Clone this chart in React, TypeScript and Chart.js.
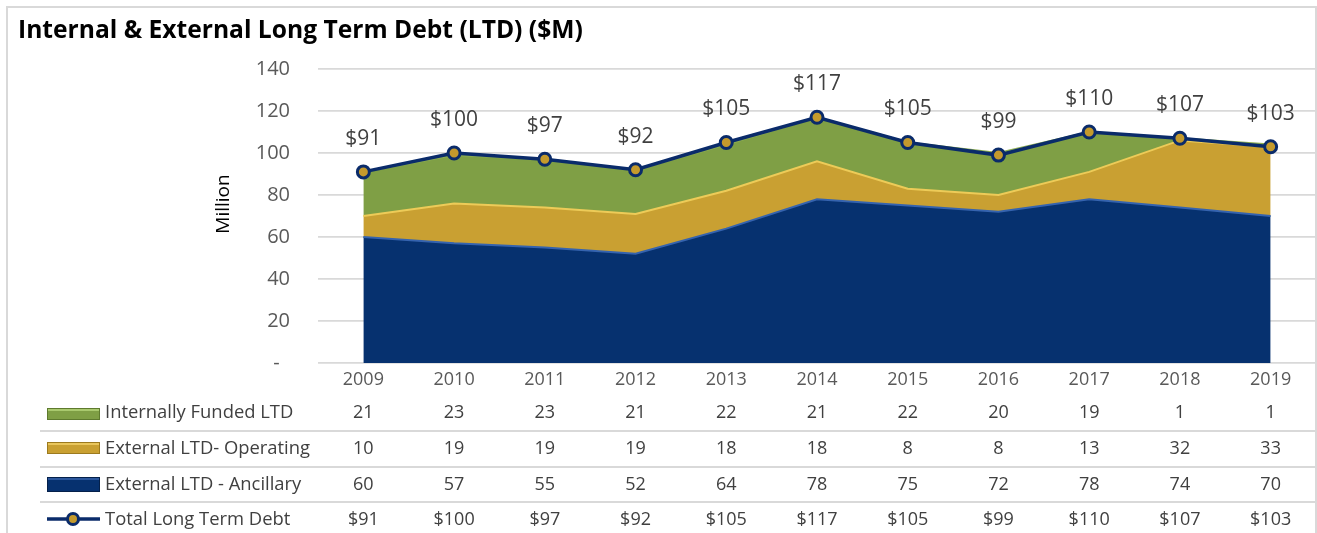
import React, { useEffect, useRef } from 'react';
import { Chart, registerables } from 'chart.js';
Chart.register(...registerables);

const TITLE = 'Internal & External Long Term Debt (LTD) ($M)';
const Y_TITLE = 'Million';
const years = ['2009', '2010', '2011', '2012', '2013', '2014', '2015', '2016', '2017', '2018', '2019'];
const internalFunded = [21, 23, 23, 21, 22, 21, 22, 20, 19, 1, 1];
const externalOperating = [10, 19, 19, 19, 18, 18, 8, 8, 13, 32, 33];
const externalAncillary = [60, 57, 55, 52, 64, 78, 75, 72, 78, 74, 70];
const totalDebt = [91, 100, 97, 92, 105, 117, 105, 99, 110, 107, 103];
const seriesNames = ['Internally Funded LTD', 'External LTD- Operating', 'External LTD - Ancillary', 'Total Long Term Debt'];

const W = 1317;
const H = 533;
const FONT = '"Open Sans", sans-serif';
const C_BLUE = '#06316F';
const C_BLUE_EDGE = '#3563AE';
const C_GOLD = '#C9A032';
const C_GOLD_EDGE = '#EDCB58';
const C_GREEN = '#7F9F45';
const C_GREEN_EDGE = '#8DAD52';
const C_LINE = '#0A2B6A';
const C_MARK = '#C49A2C';
const C_GRID = '#D9D9D9';

const fmt = (v: number) => '$' + v;

const decor = {
  id: 'decor',
  beforeDraw(chart: any) {
    const ctx = chart.ctx;
    ctx.save();
    ctx.fillStyle = '#fff';
    ctx.fillRect(0, 0, chart.width, chart.height);
    ctx.restore();
  },
  afterDatasetsDraw(chart: any) {
    const ctx = chart.ctx;
    const meta = chart.getDatasetMeta(3);
    ctx.save();
    ctx.font = `21px ${FONT}`;
    ctx.fillStyle = '#404040';
    ctx.textAlign = 'center';
    ctx.textBaseline = 'middle';
    meta.data.forEach((pt: any, i: number) => {
      ctx.fillText(fmt(totalDebt[i]), pt.x, pt.y - 33);
    });
    ctx.restore();
  },
  afterDraw(chart: any) {
    const ctx = chart.ctx;
    const xs = chart.scales.x;
    ctx.save();
    // frame
    ctx.strokeStyle = C_GRID;
    ctx.lineWidth = 2;
    ctx.strokeRect(7, 7, 1309, 600);
    // title
    let size = 22;
    ctx.font = `bold ${size}px ${FONT}`;
    const w = ctx.measureText(TITLE).width;
    size = size * 565 / w;
    ctx.font = `bold ${size}px ${FONT}`;
    ctx.fillStyle = '#000';
    ctx.textAlign = 'left';
    ctx.textBaseline = 'alphabetic';
    ctx.fillText(TITLE, 18, 38);
    // y title
    ctx.save();
    ctx.translate(224, 204);
    ctx.rotate(-Math.PI / 2);
    ctx.font = `19px ${FONT}`;
    ctx.textAlign = 'center';
    ctx.textBaseline = 'middle';
    ctx.fillText(Y_TITLE, 0, 0);
    ctx.restore();
    // table separators
    ctx.strokeStyle = C_GRID;
    ctx.lineWidth = 2;
    [431, 467, 502].forEach((y) => {
      ctx.beginPath();
      ctx.moveTo(40, y);
      ctx.lineTo(1316, y);
      ctx.stroke();
    });
    // table rows
    const rowsY = [413, 449, 485, 520];
    const rows = [internalFunded, externalOperating, externalAncillary];
    ctx.fillStyle = '#404040';
    ctx.textBaseline = 'middle';
    rowsY.forEach((y, r) => {
      ctx.textAlign = 'left';
      ctx.font = `18.4px ${FONT}`;
      ctx.fillText(seriesNames[r], 105, y);
      ctx.textAlign = 'center';
      ctx.font = `18px ${FONT}`;
      years.forEach((_, i) => {
        const v = r < 3 ? String(rows[r][i]) : fmt(totalDebt[i]);
        ctx.fillText(v, xs.getPixelForValue(i), y);
      });
    });
    // legend swatches
    const sw = [
      { c: C_GREEN, e: '#5E7A2E', hl: '#A9C96E', y: 408, h: 12 },
      { c: C_GOLD, e: '#9C7A1E', hl: '#E9C65C', y: 442, h: 12 },
      { c: C_BLUE, e: '#04204A', hl: '#2B569C', y: 477, h: 15 },
    ];
    sw.forEach((s) => {
      ctx.fillStyle = s.c;
      ctx.fillRect(47, s.y, 53, s.h);
      ctx.fillStyle = s.hl;
      ctx.fillRect(48, s.y + 1, 51, 2);
      ctx.strokeStyle = s.e;
      ctx.lineWidth = 1;
      ctx.strokeRect(47.5, s.y + 0.5, 52, s.h - 1);
    });
    // line legend
    ctx.strokeStyle = C_LINE;
    ctx.lineWidth = 3.5;
    ctx.beginPath();
    ctx.moveTo(47, 519);
    ctx.lineTo(100, 519);
    ctx.stroke();
    ctx.beginPath();
    ctx.arc(73, 519, 5.5, 0, Math.PI * 2);
    ctx.fillStyle = C_MARK;
    ctx.fill();
    ctx.lineWidth = 3;
    ctx.stroke();
    ctx.restore();
  },
};

export default function App() {
  const ref = useRef<HTMLCanvasElement>(null);
  useEffect(() => {
    document.body.style.margin = '0';
    document.body.style.overflow = 'hidden';
    document.documentElement.style.overflow = 'hidden';
    let chart: Chart | null = null;
    let cancelled = false;
    const make = () => {
      if (cancelled || !ref.current) return;
      chart = new Chart(ref.current, {
        type: 'line',
        data: {
          labels: years,
          datasets: [
            {
              label: seriesNames[2],
              data: externalAncillary,
              backgroundColor: C_BLUE,
              borderColor: C_BLUE_EDGE,
              borderWidth: 2,
              fill: 'origin',
              pointRadius: 0,
              tension: 0,
              stack: 'area',
              order: 2,
            },
            {
              label: seriesNames[1],
              data: externalOperating,
              backgroundColor: C_GOLD,
              borderColor: C_GOLD_EDGE,
              borderWidth: 2,
              fill: '-1',
              pointRadius: 0,
              tension: 0,
              stack: 'area',
              order: 2,
            },
            {
              label: seriesNames[0],
              data: internalFunded,
              backgroundColor: C_GREEN,
              borderColor: C_GREEN_EDGE,
              borderWidth: 2,
              fill: '-1',
              pointRadius: 0,
              tension: 0,
              stack: 'area',
              order: 2,
            },
            {
              label: seriesNames[3],
              data: totalDebt,
              borderColor: C_LINE,
              borderWidth: 3.5,
              backgroundColor: C_MARK,
              pointBackgroundColor: C_MARK,
              pointBorderColor: C_LINE,
              pointBorderWidth: 3,
              pointRadius: 6,
              fill: false,
              tension: 0,
              stack: 'line',
              order: 0,
            },
          ],
        },
        options: {
          animation: false,
          responsive: false,
          maintainAspectRatio: false,
          devicePixelRatio: 1,
          layout: { autoPadding: false, padding: { left: 0, top: 69, right: 1, bottom: 0 } },
          plugins: { legend: { display: false }, tooltip: { enabled: false }, title: { display: false } },
          scales: {
            x: {
              offset: true,
              grid: { display: false, drawTicks: false },
              border: { display: false },
              ticks: { color: '#595959', font: { family: FONT, size: 18 }, padding: 6, maxRotation: 0 },
              afterFit: (s: any) => {
                s.height = 170;
                s.paddingLeft = 0;
                s.paddingRight = 0;
              },
            },
            y: {
              stacked: true,
              min: 0,
              max: 140,
              grid: { color: C_GRID, lineWidth: 1.7, drawTicks: false },
              border: { display: false },
              ticks: {
                stepSize: 20,
                color: '#595959',
                font: { family: FONT, size: 20 },
                padding: 28,
                callback: (v: any) => (v === 0 ? '-\u00a0\u00a0' : String(v)),
              },
              afterFit: (s: any) => {
                s.width = 318;
                s.paddingTop = 0;
                s.paddingBottom = 0;
              },
            },
          },
        },
        plugins: [decor],
      } as any);
    };
    const fonts = (document as any).fonts;
    if (fonts && fonts.load) {
      Promise.all([fonts.load(`18px "Open Sans"`), fonts.load(`bold 22px "Open Sans"`)]).then(make, make);
    } else {
      make();
    }
    return () => {
      cancelled = true;
      if (chart) chart.destroy();
    };
  }, []);
  return (
    <div style={{ position: 'absolute', left: 0, top: 0, width: W, height: H, overflow: 'hidden' }}>
      <canvas ref={ref} width={W} height={H} style={{ display: 'block', width: W, height: H }} />
    </div>
  );
}
